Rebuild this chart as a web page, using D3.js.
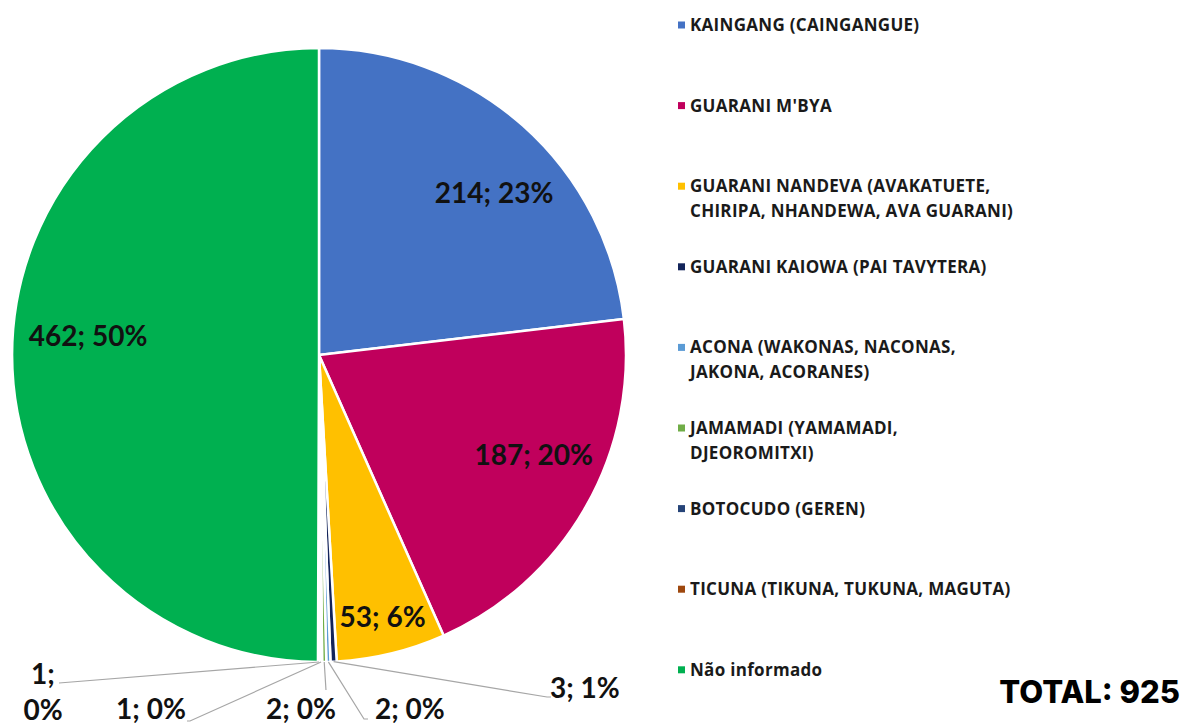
<!DOCTYPE html>
<html>
<head>
<meta charset="utf-8">
<script src="https://cdn.jsdelivr.net/npm/d3@7"></script>
<style>
  body { margin: 0; background: #fff; }
  svg { display: block; }
</style>
</head>
<body>
<svg id="chart"></svg>
<script>
// data
const categories = [
  "KAINGANG (CAINGANGUE)",
  "GUARANI M'BYA",
  "GUARANI NANDEVA (AVAKATUETE, CHIRIPA, NHANDEWA, AVA GUARANI)",
  "GUARANI KAIOWA (PAI TAVYTERA)",
  "ACONA (WAKONAS, NACONAS, JAKONA, ACORANES)",
  "JAMAMADI (YAMAMADI, DJEOROMITXI)",
  "BOTOCUDO (GEREN)",
  "TICUNA (TIKUNA, TUKUNA, MAGUTA)",
  "Não informado"
];
const legendLines = [
  ["KAINGANG (CAINGANGUE)"],
  ["GUARANI M'BYA"],
  ["GUARANI NANDEVA (AVAKATUETE,", "CHIRIPA, NHANDEWA, AVA GUARANI)"],
  ["GUARANI KAIOWA (PAI TAVYTERA)"],
  ["ACONA (WAKONAS, NACONAS,", "JAKONA, ACORANES)"],
  ["JAMAMADI (YAMAMADI,", "DJEOROMITXI)"],
  ["BOTOCUDO (GEREN)"],
  ["TICUNA (TIKUNA, TUKUNA, MAGUTA)"],
  ["Não informado"]
];
const values = [214, 187, 53, 3, 2, 2, 1, 1, 462];
const percents = [23, 20, 6, 1, 0, 0, 0, 0, 50];
const colors = ["#4472C4", "#C0005C", "#FFC000", "#13245A", "#5B9BD5", "#70AD47", "#264478", "#9E480E", "#00B050"];
const totalText = "TOTAL: 925";

const W = 1183, H = 723;
const cx = 319, cy = 355, R = 307;

const svg = d3.select("#chart").attr("width", W).attr("height", H);

const data = categories.map((c, i) => ({key: c, value: values[i], pct: percents[i], color: colors[i], idx: i}));

const pie = d3.pie().sort(null).value(d => d.value);
const arcs = pie(data);
const arc = d3.arc().innerRadius(0).outerRadius(R);

const g = svg.append("g").attr("transform", `translate(${cx},${cy})`);

g.selectAll("path.slice")
  .data(arcs)
  .join("path")
  .attr("class", "slice")
  .attr("d", arc)
  .attr("fill", d => d.data.color)
  .attr("stroke", "#fff")
  .attr("stroke-width", 2.5)
  .attr("stroke-linejoin", "round");

const labelFont = "Lato, 'Open Sans', sans-serif";
const labelSize = "28px";

// big slices: label inside (small nudges like Excel's placement)
const nudge = {0: [17, 16], 1: [8, -18], 2: [0, 0], 8: [7, -18]};
const inner = arcs.filter(d => d.data.pct >= 5);
g.selectAll("text.in")
  .data(inner)
  .join("text")
  .attr("class", "in")
  .attr("transform", d => {
    const f = (d.endAngle - d.startAngle) < 0.5 ? 0.88 : 0.775;
    const a = d3.arc().innerRadius(R * f).outerRadius(R * f);
    const [x, y] = a.centroid(d);
    const n = nudge[d.data.idx] || [0, 0];
    return `translate(${x + n[0]},${y + n[1]})`;
  })
  .attr("text-anchor", "middle")
  .attr("dy", "0.35em")
  .style("font-family", labelFont)
  .style("font-weight", 700)
  .style("font-size", labelSize)
  .style("fill", "#111")
  .text(d => `${d.data.value}; ${d.data.pct}%`);

// small slices: label outside with leader lines
// placement relative to pie center
const outPlace = {
  3: {tx: 231, ty: 333, lx: 228, ly: 342, hook: 4, anchor: "start"},
  4: {tx: 56, ty: 354, lx: 45, ly: 364, hook: 4, anchor: "start"},
  5: {tx: -18, ty: 354, lx: 7, ly: 335, hook: 0, anchor: "middle"},
  6: {tx: -168, ty: 354, lx: -129, ly: 366, hook: -3, anchor: "middle"},
  7: {tx: -276, ty: 319, lx: -260, ly: 328, hook: 0, anchor: "middle", split: true}
};
const smalls = arcs.filter(d => d.data.pct < 5);
const edge = d3.arc().innerRadius(R).outerRadius(R);

smalls.forEach(d => {
  const p = outPlace[d.data.idx];
  const [sx, sy] = edge.centroid(d);
  const pts = [[sx, sy], [p.lx, p.ly]];
  if (p.hook) pts.push([p.lx + p.hook, p.ly]);
  g.append("path")
    .attr("d", d3.line()(pts))
    .attr("fill", "none")
    .attr("stroke", "#A6A6A6")
    .attr("stroke-width", 1.2);
  const t = g.append("text")
    .attr("x", p.tx)
    .attr("y", p.ty)
    .attr("text-anchor", p.anchor)
    .attr("dy", "0.35em")
    .style("font-family", labelFont)
    .style("font-weight", 700)
    .style("font-size", labelSize)
    .style("fill", "#111");
  if (p.split) {
    t.append("tspan").attr("x", p.tx).text(`${d.data.value};`);
    t.append("tspan").attr("x", p.tx).attr("dy", "1.3em").text(`${d.data.pct}%`);
  } else {
    t.text(`${d.data.value}; ${d.data.pct}%`);
  }
});

// legend
const legend = svg.append("g").attr("transform", "translate(678,25)");
const rowStep = 80.6;
const items = legend.selectAll("g.item")
  .data(data)
  .join("g")
  .attr("class", "item")
  .attr("transform", (d, i) => `translate(0,${i * rowStep})`);

items.append("rect")
  .attr("x", 0).attr("y", -3.5)
  .attr("width", 7).attr("height", 7)
  .attr("fill", d => d.color);

items.each(function(d, i) {
  const t = d3.select(this).append("text")
    .attr("x", 12)
    .style("font-family", "'Open Sans', Lato, sans-serif")
    .style("font-weight", 700)
    .style("font-size", "17px")
    .style("letter-spacing", "0.3px")
    .style("fill", "#1a1a1a");
  legendLines[i].forEach((ln, k) => {
    t.append("tspan").attr("x", 12).attr("dy", k === 0 ? "0.35em" : "1.47em").text(ln);
  });
});

svg.append("text")
  .attr("x", 1180)
  .attr("y", 703)
  .attr("text-anchor", "end")
  .style("font-family", "Inter, 'Open Sans', sans-serif")
  .style("font-weight", 800)
  .style("font-size", "31px")
  .style("fill", "#000")
  .text(totalText);
</script>
</body>
</html>
